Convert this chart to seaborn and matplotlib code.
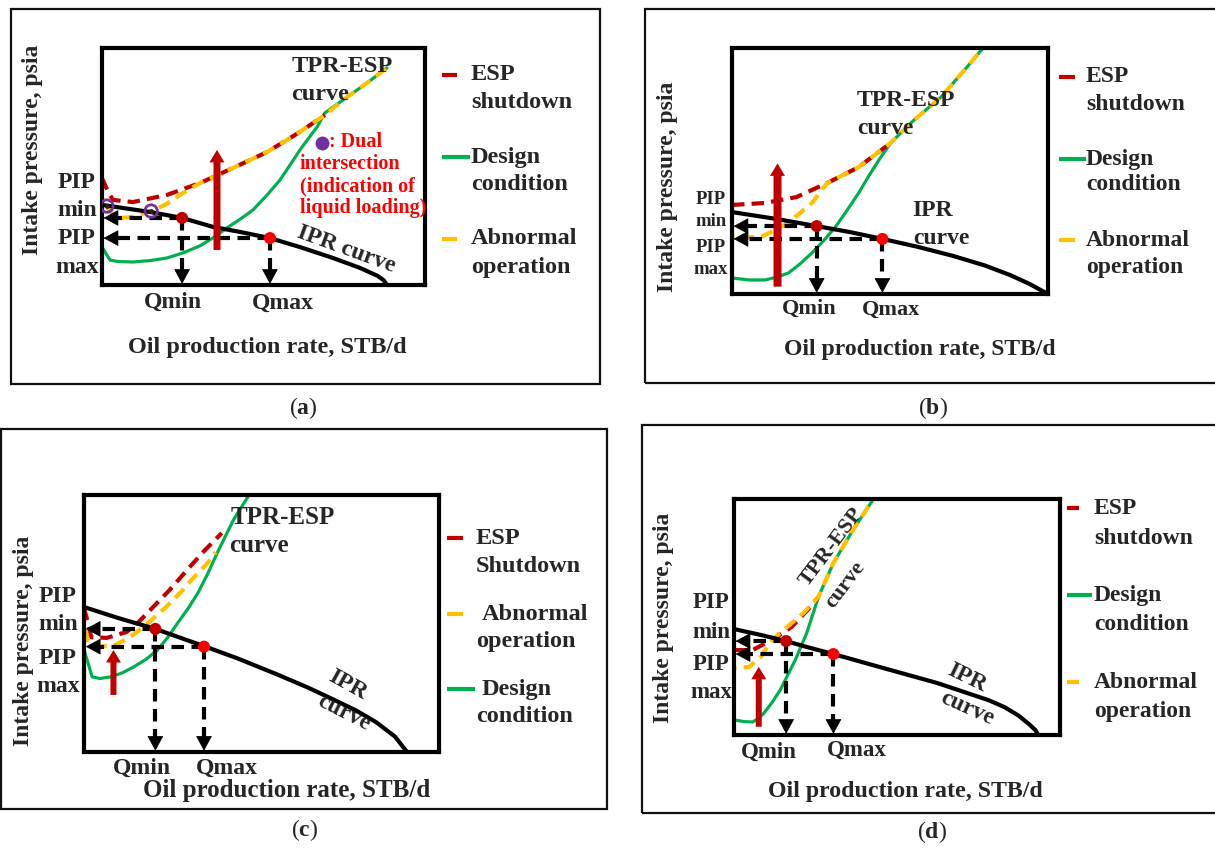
import matplotlib
matplotlib.use("Agg")
import matplotlib.pyplot as plt
from matplotlib.patches import Rectangle
from matplotlib.lines import Line2D
import seaborn as sns

sns.set_theme(style="white")
plt.rcParams["font.family"] = ["Liberation Serif", "DejaVu Serif"]
plt.rcParams["mathtext.fontset"] = "custom"
plt.rcParams["mathtext.rm"] = "Liberation Serif"
plt.rcParams["mathtext.bf"] = "Liberation Serif:bold"

W, H = 1215, 850
DARKRED = "#c00000"
RED = "#ff0000"
YELLOW = "#ffc000"
GREEN = "#00b050"
PURPLE = "#7030a0"

# curves in % of the plot box (schematic, no real units)
# ---- (a) ----
a_ipr_x = [0, 14.9, 24.8, 34.4, 42.7, 52.0, 61.3, 71.5, 79.9, 85.4, 87.2, 88.2]
a_ipr_y = [33.8, 30.8, 28.3, 24.5, 22.4, 19.8, 16.0, 11.4, 7.2, 3.8, 2.0, 0]
a_tpr_x = [0, 2.5, 5.0, 9.6, 14.9, 20.1, 25.2, 30.3, 34.5, 38.7, 42.7, 46.7, 51.0,
           55.1, 58.2, 61.3, 64.0, 66.6, 69.0, 75.9, 82.0, 88.2]
a_tpr_y = [16.0, 10.5, 9.9, 9.7, 10.3, 11.4, 13.6, 16.5, 20.0, 24.1, 27.7, 31.6, 37.8,
           44.3, 50.6, 57.0, 62.0, 66.7, 72.6, 79.3, 85.2, 91.6]
a_shut_x = [0, 1.9, 3.4, 9.6, 20.1, 30.3, 40.6, 51.1, 61.3, 69.0]
a_shut_y = [45.1, 39.2, 35.9, 35.0, 38.0, 43.0, 49.4, 56.1, 64.6, 71.7]
a_abn_x = [0, 2.5, 5.6, 9.6, 15.2, 19.5, 24.1, 30.3, 40.6, 51.1, 61.3, 69.0, 75.9, 82.0, 88.2]
a_abn_y = [36.7, 30.8, 28.3, 28.7, 31.2, 33.8, 38.0, 43.0, 49.4, 56.1, 64.6, 71.7, 79.3, 85.2, 91.6]
a_q_x = [24.8, 52.0]
a_q_y = [28.3, 19.8]
a_dual_x = [1.5, 15.2]
a_dual_y = [33.3, 31.2]
a_shift_x = 35.6
a_shift_y = [14.8, 57.0]

# ---- (b) ----
b_ipr_x = [0, 14.1, 26.8, 37.2, 47.6, 58.7, 69.9, 80.0, 88.0, 94.0, 100]
b_ipr_y = [33.3, 30.5, 27.6, 25.2, 22.4, 19.2, 15.5, 11.6, 7.7, 4.2, 0]
b_tpr_x = [0, 5.6, 10.4, 14.0, 17.8, 21.5, 25.3, 29.0, 32.7, 36.4, 40.1, 43.3, 46.5,
           50.2, 57.6, 66.2, 73.6, 79.2]
b_tpr_y = [6.5, 5.7, 5.7, 6.8, 8.5, 12.2, 16.7, 21.7, 27.2, 34.0, 41.1, 48.0, 54.5,
           61.4, 70.7, 80.1, 91.1, 99.6]
b_shut_x = [0, 10.4, 20.4, 30.1, 40.1, 50.2]
b_shut_y = [36.2, 37.0, 39.4, 45.1, 51.6, 61.4]
b_abn_x = [0, 9.3, 17.8, 25.3, 30.1, 40.1, 50.2, 57.6, 66.2, 73.6, 79.2]
b_abn_y = [22.8, 23.2, 28.9, 37.0, 45.1, 51.6, 61.4, 70.7, 80.1, 91.1, 99.6]
b_q_x = [26.8, 47.6]
b_q_y = [27.6, 22.4]
b_shift_x = 14.4
b_shift_y = [3.0, 53.1]

# ---- (c) ----
c_ipr_x = [0, 9.7, 20.1, 26.4, 33.8, 43.1, 54.2, 63.2, 70.9, 76.6, 82.3, 87.6, 91.0]
c_ipr_y = [56.4, 52.1, 47.9, 44.8, 41.2, 36.5, 30.3, 25.0, 20.0, 16.2, 11.6, 6.0, 0]
c_tpr_x = [0, 1.3, 2.3, 4.5, 7.4, 10.8, 14.0, 17.5, 20.7, 23.6, 26.4, 29.3, 32.1,
           34.9, 37.5, 42.1, 46.5]
c_tpr_y = [39.7, 33.9, 29.2, 28.6, 29.2, 30.8, 33.1, 36.1, 39.7, 44.6, 50.2, 55.8, 61.9,
           69.5, 77.4, 90.3, 100]
c_shut_x = [0, 1.3, 2.0, 6.4, 12.0, 15.4, 18.7, 24.1, 29.8, 34.1, 38.8]
c_shut_y = [56.0, 49.4, 44.7, 44.4, 46.7, 50.6, 55.3, 63.0, 72.0, 78.6, 85.2]
c_abn_x = [0, 1.0, 3.7, 8.7, 13.0, 18.1, 23.1, 27.1, 30.8, 34.8, 37.1]
c_abn_y = [51.4, 43.6, 40.9, 41.6, 44.7, 50.2, 56.4, 61.9, 67.7, 73.5, 77.8]
c_q_x = [20.1, 33.8]
c_q_y = [47.9, 41.0]
c_shift_x = 8.3
c_shift_y = [22.2, 39.7]

# ---- (d) ----
d_ipr_x = [0, 8.2, 16.0, 22.3, 30.5, 44.7, 62.4, 78.0, 83.0, 87.2, 90.5, 92.5, 93.3]
d_ipr_y = [44.9, 42.4, 39.8, 37.3, 34.3, 28.8, 22.0, 14.8, 11.8, 8.3, 4.6, 2.0, 0]
d_tpr_x = [0, 3.0, 5.7, 7.5, 9.2, 11.7, 14.2, 18.8, 22.3, 25.9, 30.5, 36.5, 42.6]
d_tpr_y = [6.4, 5.7, 5.5, 7.0, 9.3, 13.8, 19.1, 31.8, 43.2, 58.5, 72.9, 86.9, 99.6]
d_shut_x = [0, 5.7, 11.7, 17.7, 23.4, 25.9]
d_shut_y = [36.0, 36.0, 40.3, 45.8, 54.2, 58.5]
d_abn_x = [0, 4.6, 8.2, 11.7, 15.2, 21.3, 25.9, 30.5, 36.5, 42.6]
d_abn_y = [28.4, 28.8, 33.1, 40.3, 44.5, 51.7, 58.5, 72.9, 86.9, 99.6]
d_q_x = [16.0, 30.5]
d_q_y = [39.8, 34.3]
d_shift_x = 7.6
d_shift_y = [3.5, 28.9]

fig = plt.figure(figsize=(W / 100, H / 100), dpi=100)


def fx(px):
    return px / W


def fy(py):
    return 1 - py / H


def put(s, px, py, size, **kw):
    kw.setdefault("ha", "center")
    kw.setdefault("va", "center")
    kw.setdefault("fontweight", "bold")
    fig.text(fx(px), fy(py), s, fontsize=size, **kw)


def frame(x0, y0, x1, y1):
    fig.add_artist(Rectangle((fx(x0), fy(y1)), fx(x1) - fx(x0), fy(y0) - fy(y1),
                             transform=fig.transFigure, fill=False, lw=1.6, ec="#111111"))


def key(x0, x1, py, color):
    fig.add_artist(Line2D([fx(x0), fx(x1)], [fy(py), fy(py)], color=color, lw=3,
                          solid_capstyle="butt", transform=fig.transFigure))


def panel(box, ipr_x, ipr_y, tpr_x, tpr_y, shut_x, shut_y, abn_x, abn_y,
          q_x, q_y, shift_x, shift_y, tail):
    L, T, R, B = box
    ax = fig.add_axes([fx(L), fy(B), fx(R) - fx(L), fy(T) - fy(B)])
    ax.set_xlim(0, 100)
    ax.set_ylim(0, 100)
    line = dict(ax=ax, sort=False, estimator=None)
    sns.lineplot(x=tpr_x, y=tpr_y, color=GREEN, lw=2.3, **line)
    sns.lineplot(x=shut_x, y=shut_y, color=DARKRED, lw=3, linestyle=(0, (3, 1.7)), **line)
    sns.lineplot(x=abn_x, y=abn_y, color=YELLOW, lw=3, linestyle=(2.4, (3, 1.7)), **line)
    sns.lineplot(x=ipr_x, y=ipr_y, color="black", lw=3, **line)
    head = dict(arrowstyle="-|>,head_length=0.7,head_width=0.38", color="black",
                lw=0.5, mutation_scale=14, shrinkA=0, shrinkB=0)
    for qx, qy in zip(q_x, q_y):
        ax.plot([qx, 2], [qy, qy], color="black", lw=3, ls=(0, (3, 1.8)))
        ax.plot([qx, qx], [qy, 2], color="black", lw=3, ls=(0, (3, 1.8)))
        ax.annotate("", xy=(0.5, qy), xytext=(9, 0), textcoords="offset points", arrowprops=head)
        ax.annotate("", xy=(qx, 0.5), xytext=(0, 9), textcoords="offset points", arrowprops=head)
    ax.annotate("", xy=(shift_x, shift_y[1]), xytext=(shift_x, shift_y[0]),
                arrowprops=dict(arrowstyle="simple,head_length=0.75,head_width=0.9,tail_width=%.2f" % tail,
                                color=DARKRED, lw=0, mutation_scale=12, shrinkA=0, shrinkB=0))
    sns.scatterplot(x=q_x, y=q_y, hue=["min", "max"], palette=[DARKRED, RED], s=75,
                    linewidth=0, legend=False, ax=ax, zorder=6)
    ax.set(xlabel="", ylabel="", xticks=[], yticks=[])
    for sp in ax.spines.values():
        sp.set_linewidth(3)
        sp.set_color("black")
        sp.set_visible(True)
    return ax


# ---------------- (a) ----------------
frame(11, 9, 600, 384)
ax_a = panel((102, 48, 425, 285), a_ipr_x, a_ipr_y, a_tpr_x, a_tpr_y, a_shut_x, a_shut_y,
             a_abn_x, a_abn_y, a_q_x, a_q_y, a_shift_x, a_shift_y, 0.42)
ax_a.scatter(a_dual_x, a_dual_y, s=80, facecolor="none", edgecolor=PURPLE, lw=2, zorder=7)
ax_a.scatter(a_dual_x, a_dual_y, s=6, color="#332200", zorder=8)
fig.add_artist(Line2D([fx(322)], [fy(143)], marker="o", ms=9, color=PURPLE, transform=fig.transFigure))
put(": Dual", 329, 142, 14.5, ha="left", color=RED)
put("intersection", 300, 164, 14.5, ha="left", color=RED)
put("(indication of", 300, 186, 14.5, ha="left", color=RED)
put("liquid loading)", 300, 208, 14.5, ha="left", color=RED)
for s, y in [("PIP", 182), ("min", 210), ("PIP", 238), ("max", 267)]:
    put(s, 77, y, 17)
put("Qmin", 173, 302, 17)
put("Qmax", 283, 303, 17)
put("Oil production rate, STB/d", 267, 348, 17.5)
put("Intake pressure, psia", 33, 150, 17, rotation=90)
put("TPR-ESP", 342, 67, 17.5)
put("curve", 320, 95, 17.5)
put("IPR curve", 346, 249, 17, rotation=-20)
key(441.7, 456.7, 75, DARKRED)
key(441.7, 470, 157, GREEN)
key(441.7, 456.7, 239, YELLOW)
for s, y in [("ESP", 75), ("shutdown", 103), ("Design", 157), ("condition", 184),
             ("Abnormal", 239), ("operation", 267)]:
    put(s, 471, y, 17.5, ha="left")
put(r"($\mathbf{a}$)", 303, 408, 17, fontweight="normal")

# ---------------- (b) ----------------
frame(645, 9, 1230, 383)
panel((732, 48, 1048, 294), b_ipr_x, b_ipr_y, b_tpr_x, b_tpr_y, b_shut_x, b_shut_y,
      b_abn_x, b_abn_y, b_q_x, b_q_y, b_shift_x, b_shift_y, 0.48)
for s, y in [("PIP", 200), ("min", 222), ("PIP", 247), ("max", 269)]:
    put(s, 711, y, 13.5)
put("Qmin", 809, 309, 16)
put("Qmax", 891, 310, 16)
put("Oil production rate, STB/d", 920, 350, 17)
put("Intake pressure, psia", 667, 187, 17, rotation=90)
put("TPR-ESP", 906, 100, 17)
put("curve", 885, 128, 17)
put("IPR", 933, 210, 17)
put("curve", 941, 238, 17)
key(1059, 1074.5, 77, DARKRED)
key(1059, 1086, 159, GREEN)
key(1059, 1074.5, 240, YELLOW)
for s, y in [("ESP", 77), ("shutdown", 105), ("Design", 159), ("condition", 185),
             ("Abnormal", 240), ("operation", 268)]:
    put(s, 1086, y, 17, ha="left")
put(r"($\mathbf{b}$)", 933, 408, 17, fontweight="normal")

# ---------------- (c) ----------------
frame(1, 429, 607, 809)
panel((84, 495, 439, 752), c_ipr_x, c_ipr_y, c_tpr_x, c_tpr_y, c_shut_x, c_shut_y,
      c_abn_x, c_abn_y, c_q_x, c_q_y, c_shift_x, c_shift_y, 0.36)
for s, y in [("PIP", 597), ("min", 625), ("PIP", 658), ("max", 687)]:
    put(s, 58, y, 17)
put("Qmin", 142, 768, 17)
put("Qmax", 227, 768, 17)
put("Oil production rate, STB/d", 287, 791, 18)
put("Intake pressure, psia", 24, 641, 17, rotation=90)
put("TPR-ESP", 283, 517, 18)
put("curve", 259, 546, 18)
put("IPR", 348, 685, 17, rotation=-29)
put("curve", 344, 713, 17, rotation=-27)
key(447, 462.6, 538, DARKRED)
key(447, 462.6, 614, YELLOW)
key(447, 474.5, 689, GREEN)
put("ESP", 476, 538, 17.5, ha="left")
put("Shutdown", 476, 567, 17.5, ha="left")
put("Abnormal", 482, 614, 17.5, ha="left")
put("operation", 476, 642, 17.5, ha="left")
put("Design", 482, 689, 17.5, ha="left")
put("condition", 476, 717, 17.5, ha="left")
put(r"($\mathbf{c}$)", 305, 830, 17, fontweight="normal")

# ---------------- (d) ----------------
frame(642, 425, 1230, 813)
panel((734, 499, 1060, 735), d_ipr_x, d_ipr_y, d_tpr_x, d_tpr_y, d_shut_x, d_shut_y,
      d_abn_x, d_abn_y, d_q_x, d_q_y, d_shift_x, d_shift_y, 0.36)
for s, y in [("PIP", 603), ("min", 632), ("PIP", 665), ("max", 693)]:
    put(s, 711, y, 16.5)
put("Qmin", 769, 752, 16.5)
put("Qmax", 857, 750, 16.5)
put("Oil production rate, STB/d", 905, 791, 17.2)
put("Intake pressure, psia", 664, 618, 17, rotation=90)
put("TPR-ESP", 832, 547, 16, rotation=53)
put("curve", 845, 585, 16, rotation=53)
put("IPR", 967, 678, 17, rotation=-26)
put("curve", 967, 708, 17, rotation=-24)
key(1067, 1078.7, 508, DARKRED)
key(1067, 1092.3, 595, GREEN)
key(1067, 1078.7, 682, YELLOW)
for s, y in [("ESP", 508), ("shutdown", 538), ("Design", 595), ("condition", 624),
             ("Abnormal", 682), ("operation", 711)]:
    put(s, 1094, y, 17, ha="left")
put(r"($\mathbf{d}$)", 932, 832, 17, fontweight="normal")

fig.savefig("out.png", dpi=100, facecolor="white")
